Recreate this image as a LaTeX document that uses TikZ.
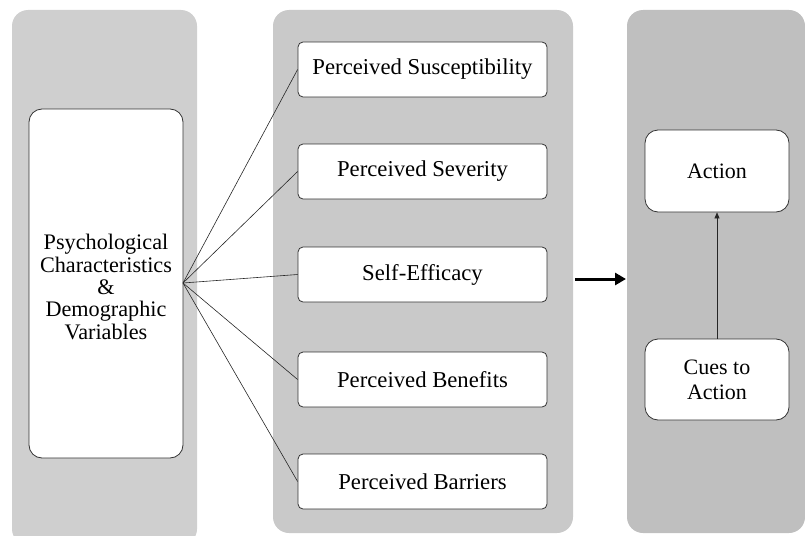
\documentclass[tikz,border=0pt]{standalone}
\usepackage{fontspec}
\setmainfont{Liberation Serif}
\usetikzlibrary{arrows.meta}
\begin{document}
\begin{tikzpicture}[x=1pt,y=-1pt,
  panel/.style={rounded corners=16pt},
  factor/.style={draw=black!80, line width=0.8pt, fill=white, rounded corners=5pt,
    minimum width=249pt, minimum height=55pt, font=\fontsize{22.7}{25}\selectfont},
  bigbox/.style={draw=black!80, line width=0.8pt, fill=white, rounded corners=13pt,
    align=center, font=\fontsize{22}{25}\selectfont},
  link/.style={draw=black!85, line width=0.6pt}
]
\useasboundingbox (0,0) rectangle (805,535);
% column backgrounds
\fill[panel, fill=black!19] (12,10) rectangle (197,545);
\fill[panel, fill=black!21] (273,10) rectangle (573,533);
\fill[panel, fill=black!25] (627,10) rectangle (805,533);

% left column
\node[bigbox, minimum width=154pt, minimum height=349pt] (psy) at (106,283.5) {};
\node[align=center, inner sep=0pt, font=\fontsize{22.2}{22.3}\selectfont] (psytext) at (106,287)
  {Psychological\\Characteristics\\\&\\Demographic\\Variables};
\coordinate (hub) at (183,283);

% middle column
\node[factor] (sus) at (422.5,69.5) {Perceived Susceptibility};
\node[factor] (sev) at (422.5,171.5) {Perceived Severity};
\node[factor] (eff) at (422.5,274.5) {Self-Efficacy};
\node[factor] (ben) at (422.5,379.5) {Perceived Benefits};
\node[factor] (bar) at (422.5,481.5) {Perceived Barriers};

\foreach \t in {sus,sev,eff,ben,bar}
  \draw[link] (hub) -- (\t.west);

% right column
\node[bigbox, minimum width=144pt, minimum height=82pt] (act) at (717,171) {Action};
\node[bigbox, minimum width=144pt, minimum height=81pt] (cue) at (717,379.5) {Cues to\\Action};
\draw[link, -{Triangle[length=6pt,width=5pt]}] (cue.north) -- (act.south);

% block arrow between the middle and right columns
\coordinate (ja) at (575,279);
\coordinate (jb) at (626,279);
\draw[line width=3pt, -{Triangle[length=11pt,width=12pt]}] (ja) -- (jb);
\end{tikzpicture}
\end{document}
